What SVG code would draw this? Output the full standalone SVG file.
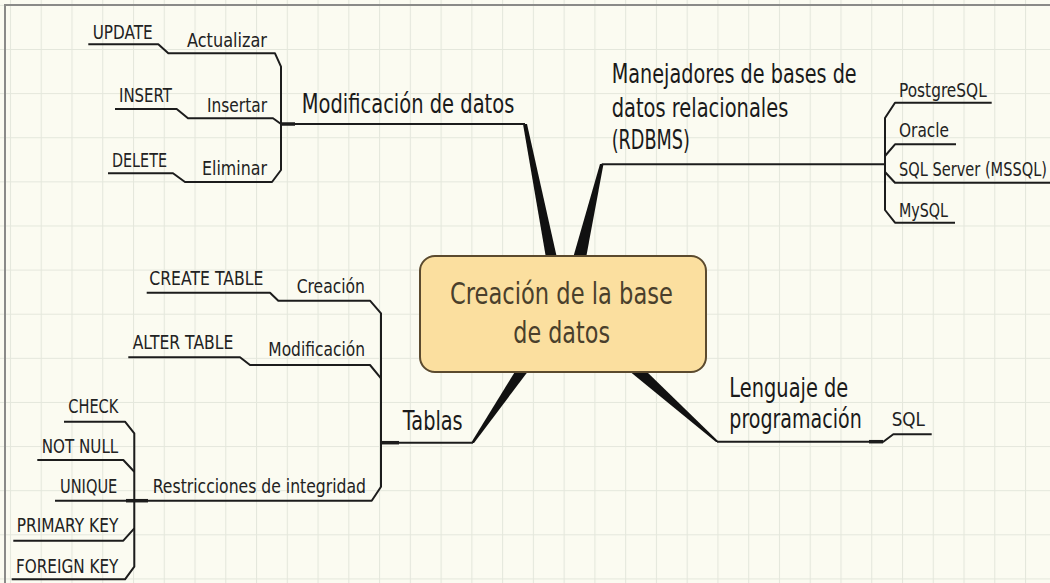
<svg xmlns="http://www.w3.org/2000/svg" width="1050" height="583" viewBox="0 0 1050 583">
<style>
.ln{fill:none;stroke:#1c1c1c;stroke-width:2;stroke-linejoin:round}
.jn{fill:none;stroke:#1c1c1c;stroke-width:3.5}
.br{fill:#111}
.s{font-family:"DejaVu Sans",Verdana,sans-serif;font-size:20px;fill:#222}
.t{font-family:"DejaVu Sans",Verdana,sans-serif;font-size:26px;fill:#1a1a1a}
.c{font-family:"DejaVu Sans",Verdana,sans-serif;font-size:30px;fill:#4a3f2c}
</style>
<defs>
<pattern id="grid" patternUnits="userSpaceOnUse" x="9.94" y="4.88" width="30.76" height="44.12">
<path d="M0,0 V44.12 M0,0 H30.76" fill="none" stroke="#e4e7dc" stroke-width="2.2"/>
</pattern>
</defs>
<rect width="1050" height="583" fill="#fbfbf1"/>
<rect width="1050" height="583" fill="url(#grid)"/>
<path d="M5,583 V5 H1050" fill="none" stroke="#8a8a88" stroke-width="2"/>

<g id="connectors">
<polygon class="br" points="523,124 527,124 557,258 546,258"/>
<polygon class="br" points="600,164 603.5,164 586,258 573,258"/>
<polygon class="br" points="471,443 474,443 529,370 516,370"/>
<polygon class="br" points="628,370 645,370 719,442 716,442"/>
<path class="ln" d="M88.3,44.3 H158.3 L168.3,53.3 H275 L281,66.7 V170 L272,182 H185 L173,173.3 H108"/>
<path class="ln" d="M115,109 H176.7 L188,118.3 H273 L281,124 H525"/>
<path class="jn" d="M281,124 H295"/>
<path class="ln" d="M601.7,164.3 H885"/>
<path class="ln" d="M991.7,102.7 H895 L885,118 V210 L895,222.7 H955"/>
<path class="ln" d="M885,156 L895,144.3 H956"/>
<path class="ln" d="M885,172 L895,182.7 H1050"/>
<path class="ln" d="M146.7,292.7 H270 L278.3,300.7 H370 L381,313.3 V486.7 L371.7,500.7 H134.3"/>
<path class="ln" d="M128.3,357.3 H240 L250,365 H370 L381,378.3"/>
<path class="ln" d="M381,442.7 H473"/>
<path class="jn" d="M381,442.7 H399"/>
<path class="ln" d="M64,421.7 H125 L134.3,433.3 V566.7 L125,579.3 H11.7"/>
<path class="ln" d="M37.3,460 H123.3 L134.3,471.7"/>
<path class="ln" d="M55,500.7 H134.3"/>
<path class="jn" d="M126,500.7 H148"/>
<path class="ln" d="M13.3,540.7 H123.3 L134.3,528.3"/>
<path class="ln" d="M717,441.7 H883.3 L893.3,434.3 H931.7"/>
<path class="jn" d="M869,441.7 H883"/>
</g>

<g id="center">
<rect x="420" y="256" width="286" height="116" rx="15" ry="15" fill="#fbdf9f" stroke="#5b4a2e" stroke-width="2"/>
<text class="c" x="450" y="304" textLength="223" lengthAdjust="spacingAndGlyphs">Creación de la base</text>
<text class="c" x="513.3" y="343.3" textLength="96.7" lengthAdjust="spacingAndGlyphs">de datos</text>
</g>

<g id="modificacion">
<text class="t" x="301.7" y="112.7" textLength="212.6" lengthAdjust="spacingAndGlyphs">Modificación de datos</text>
</g>
<g id="actualizar"><text class="s" x="187" y="47.3" textLength="80" lengthAdjust="spacingAndGlyphs">Actualizar</text></g>
<g id="update"><text class="s" x="92.7" y="39.3" textLength="60" lengthAdjust="spacingAndGlyphs">UPDATE</text></g>
<g id="insertar"><text class="s" x="207" y="111.7" textLength="60" lengthAdjust="spacingAndGlyphs">Insertar</text></g>
<g id="insert"><text class="s" x="119" y="102.3" textLength="53" lengthAdjust="spacingAndGlyphs">INSERT</text></g>
<g id="eliminar"><text class="s" x="202" y="175" textLength="65" lengthAdjust="spacingAndGlyphs">Eliminar</text></g>
<g id="delete"><text class="s" x="112" y="166.7" textLength="55" lengthAdjust="spacingAndGlyphs">DELETE</text></g>

<g id="rdbms">
<text class="t" x="611.7" y="83.3" textLength="245" lengthAdjust="spacingAndGlyphs">Manejadores de bases de</text>
<text class="t" x="611.7" y="116.7" textLength="176.6" lengthAdjust="spacingAndGlyphs">datos relacionales</text>
<text class="t" x="611.7" y="149" textLength="78.3" lengthAdjust="spacingAndGlyphs">(RDBMS)</text>
</g>
<g id="postgresql"><text class="s" x="899" y="96.7" textLength="87.7" lengthAdjust="spacingAndGlyphs">PostgreSQL</text></g>
<g id="oracle"><text class="s" x="899" y="136.7" textLength="50" lengthAdjust="spacingAndGlyphs">Oracle</text></g>
<g id="sqlserver"><text class="s" x="899" y="176" textLength="148" lengthAdjust="spacingAndGlyphs">SQL Server (MSSQL)</text></g>
<g id="mysql"><text class="s" x="899" y="216.7" textLength="49" lengthAdjust="spacingAndGlyphs">MySQL</text></g>

<g id="tablas"><text class="t" x="402.7" y="430" textLength="60" lengthAdjust="spacingAndGlyphs">Tablas</text></g>
<g id="creacion"><text class="s" x="296.7" y="292.7" textLength="68.3" lengthAdjust="spacingAndGlyphs">Creación</text></g>
<g id="createtable"><text class="s" x="149.3" y="285" textLength="114" lengthAdjust="spacingAndGlyphs">CREATE TABLE</text></g>
<g id="modificacion2"><text class="s" x="268.3" y="356" textLength="96.7" lengthAdjust="spacingAndGlyphs">Modificación</text></g>
<g id="altertable"><text class="s" x="132.7" y="349" textLength="100.6" lengthAdjust="spacingAndGlyphs">ALTER TABLE</text></g>
<g id="restricciones"><text class="s" x="152.7" y="493.3" textLength="213.3" lengthAdjust="spacingAndGlyphs">Restricciones de integridad</text></g>
<g id="check"><text class="s" x="68.3" y="412.7" textLength="50" lengthAdjust="spacingAndGlyphs">CHECK</text></g>
<g id="notnull"><text class="s" x="41.7" y="452.7" textLength="76.6" lengthAdjust="spacingAndGlyphs">NOT NULL</text></g>
<g id="unique"><text class="s" x="60" y="493.3" textLength="57.3" lengthAdjust="spacingAndGlyphs">UNIQUE</text></g>
<g id="primarykey"><text class="s" x="16.7" y="531.7" textLength="101.6" lengthAdjust="spacingAndGlyphs">PRIMARY KEY</text></g>
<g id="foreignkey"><text class="s" x="16" y="572.7" textLength="102.3" lengthAdjust="spacingAndGlyphs">FOREIGN KEY</text></g>

<g id="lenguaje">
<text class="t" x="729.3" y="396.7" textLength="119" lengthAdjust="spacingAndGlyphs">Lenguaje de</text>
<text class="t" x="729.3" y="428.3" textLength="132.4" lengthAdjust="spacingAndGlyphs">programación</text>
</g>
<g id="sql"><text class="s" x="891.7" y="426" textLength="33.3" lengthAdjust="spacingAndGlyphs">SQL</text></g>
</svg>
